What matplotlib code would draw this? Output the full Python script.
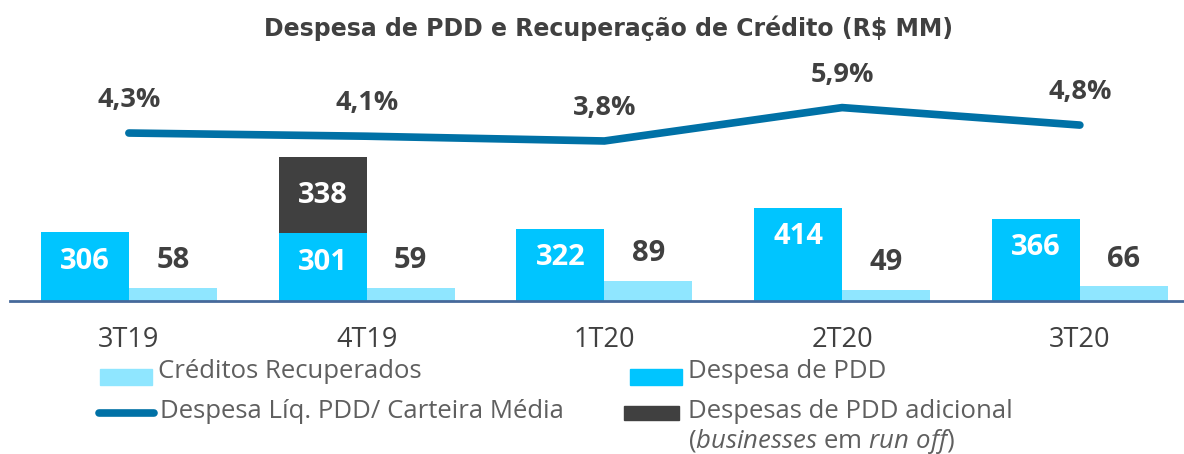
import matplotlib
matplotlib.use("Agg")
import matplotlib.pyplot as plt
import numpy as np
from matplotlib.patches import Rectangle
from matplotlib.lines import Line2D

# ---- data ----
categories = ["3T19", "4T19", "1T20", "2T20", "3T20"]
despesa_pdd = [306, 301, 322, 414, 366]
creditos_recuperados = [58, 59, 89, 49, 66]
despesa_adicional = [0, 338, 0, 0, 0]
despesa_liq_pct = [4.3, 4.1, 3.8, 5.9, 4.8]
pct_labels = ["4,3%", "4,1%", "3,8%", "5,9%", "4,8%"]

# ---- style ----
C_DESP = "#00C5FF"
C_CRED = "#8FE6FF"
C_ADIC = "#404040"
C_LINE = "#0071A6"
C_TXT = "#404040"
C_LEG = "#5F5F5F"

plt.rcParams["font.family"] = ["Open Sans", "DejaVu Sans"]
plt.rcParams["mathtext.fontset"] = "custom"
plt.rcParams["mathtext.rm"] = "Open Sans"
plt.rcParams["mathtext.it"] = "Open Sans:italic"

W, H = 1184, 454
fig = plt.figure(figsize=(W / 100, H / 100), dpi=100)

def fx(px):
    return px / W

def fy(py):
    return 1 - py / H

# main axes: baseline at y=301px, top at y=40px
ax = fig.add_axes([fx(10), fy(301), 1 - fx(10), (301 - 40) / H])
x = np.arange(len(categories))
bw = 0.37
ax.set_xlim(-0.5, -0.5 + (W - 10) / 237.75)
ax.set_ylim(0, 261 / 0.225)

ax.bar(x - bw / 2, despesa_pdd, bw, color=C_DESP, zorder=2)
ax.bar(x + bw / 2, creditos_recuperados, bw, color=C_CRED, zorder=2)
for i, v in enumerate(despesa_adicional):
    if v > 0:
        ax.bar(x[i] - bw / 2, v, bw, bottom=despesa_pdd[i], color=C_ADIC, zorder=2)
        ax.annotate(str(v), (x[i] - bw / 2, despesa_pdd[i] + v / 2),
                    ha="center", va="center", color="white",
                    fontsize=21, fontweight="bold")

for i, v in enumerate(despesa_pdd):
    ax.annotate(str(v), (x[i] - bw / 2, v), xytext=(0, -29 * 0.72),
                textcoords="offset points", ha="center", va="center",
                color="white", fontsize=21, fontweight="bold")
for i, v in enumerate(creditos_recuperados):
    ax.annotate(str(v), (x[i] + bw / 2, v), xytext=(0, 27 * 0.72),
                textcoords="offset points", ha="center", va="center",
                color=C_TXT, fontsize=21, fontweight="bold")

for s in ["top", "right", "left"]:
    ax.spines[s].set_visible(False)
ax.spines["bottom"].set_color("#46699A")
ax.spines["bottom"].set_linewidth(2)
ax.set_yticks([])
ax.set_xticks(x)
ax.set_xticklabels(categories, fontsize=19.5, color=C_TXT)
ax.tick_params(axis="x", length=0, pad=18)

# line on twin axis
ax2 = ax.twinx()
ax2.set_ylim((201.4 - 301) / 15.9, (201.4 - 40) / 15.9)
ax2.plot(x, despesa_liq_pct, color=C_LINE, lw=5.5, solid_capstyle="round",
         solid_joinstyle="miter", zorder=3)
for i, v in enumerate(despesa_liq_pct):
    ax2.annotate(pct_labels[i], (x[i], v), xytext=(0, 33 * 0.72),
                 textcoords="offset points", ha="center", va="center",
                 color=C_TXT, fontsize=19.5, fontweight="bold")
ax2.axis("off")

# title
fig.text(fx(608), fy(28), r"Despesa de PDD e Recuperação de Crédito (R\$ MM)",
         ha="center", va="center", fontsize=17, fontweight="bold",
         color=C_TXT, family="DejaVu Sans")

# legend (manual)
def patch(x0, x1, yc, h, color):
    fig.add_artist(Rectangle((fx(x0), fy(yc + h / 2)), fx(x1) - fx(x0), h / H,
                             transform=fig.transFigure, color=color))

LFS = 18.5
patch(100, 152, 377, 16, C_CRED)
fig.text(fx(158), fy(372), "Créditos Recuperados", ha="left", va="center",
         fontsize=LFS, color=C_LEG)
patch(630, 682, 377, 16, C_DESP)
fig.text(fx(688), fy(372), "Despesa de PDD", ha="left", va="center",
         fontsize=LFS, color=C_LEG)
fig.add_artist(Line2D([fx(99), fx(154)], [fy(413), fy(413)],
                      transform=fig.transFigure, color=C_LINE, lw=5.5,
                      solid_capstyle="round"))
fig.text(fx(160), fy(412), "Despesa Líq. PDD/ Carteira Média", ha="left",
         va="center", fontsize=LFS, color=C_LEG)
patch(624, 679, 413, 14, C_ADIC)
fig.text(fx(688), fy(412), "Despesas de PDD adicional", ha="left",
         va="center", fontsize=LFS, color=C_LEG)
fig.text(fx(688), fy(441), r"($\mathit{businesses}$ em $\mathit{run\ off}$)",
         ha="left", va="center", fontsize=LFS, color=C_LEG)

fig.savefig("out.png", dpi=100)
